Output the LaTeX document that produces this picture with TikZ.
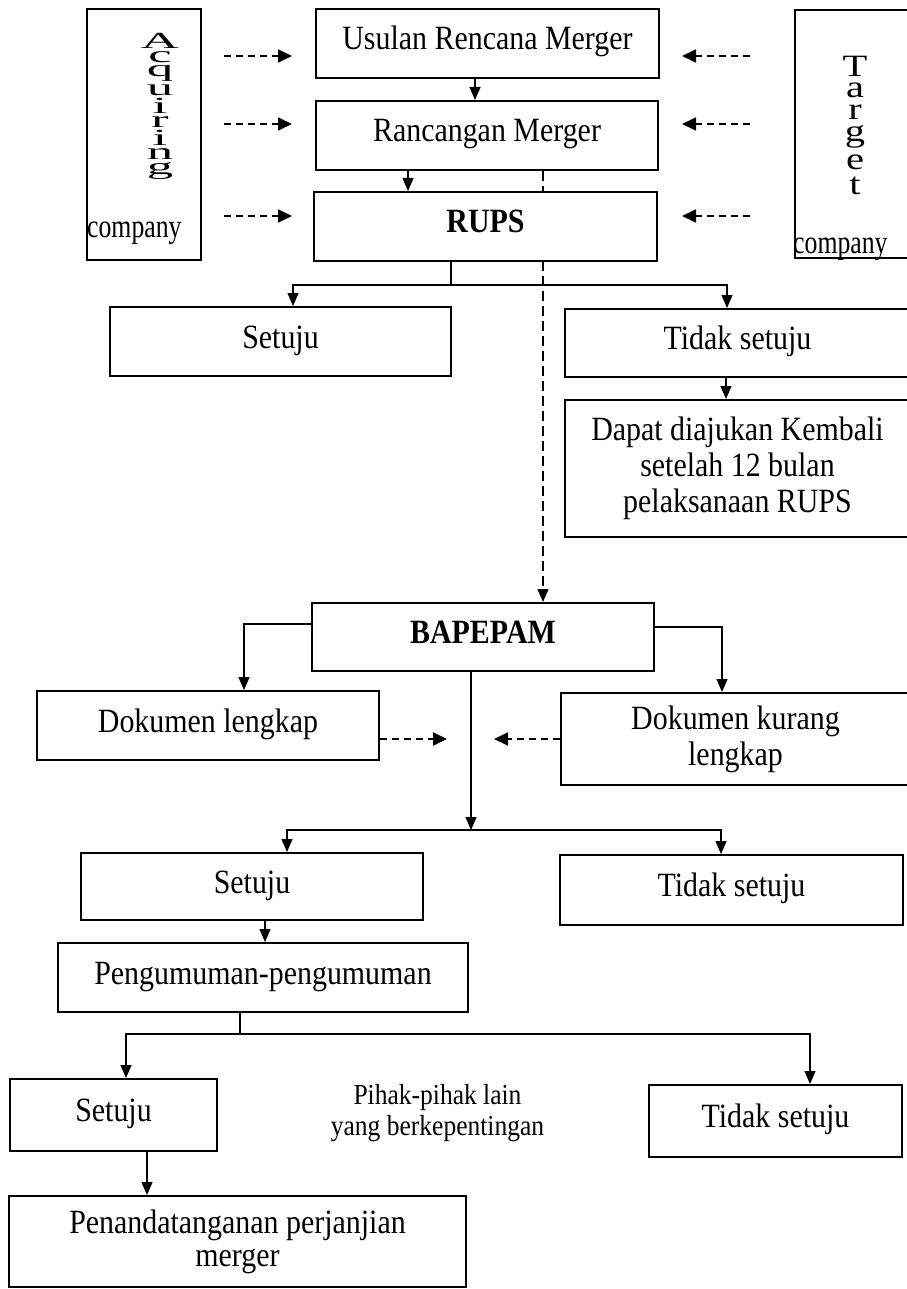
\documentclass[tikz,border=0pt]{standalone}
\usepackage{fontspec}
\setmainfont[FakeStretch=0.88]{Liberation Serif}
\newfontfamily\plainserif{Liberation Serif}
\usetikzlibrary{arrows.meta,backgrounds,calc}
\newcommand{\boxfont}{\fontsize{34}{36}\selectfont}
\newcommand{\pihakfont}{\fontsize{29}{31}\selectfont}
\newcommand{\wl}[1]{\scalebox{2.4}[1.05]{#1}}
\newcommand{\tl}[1]{\scalebox{1.5}[1.15]{#1}}
\tikzset{
  box/.style={draw, line width=2pt, fill=white, inner sep=0pt, font=\boxfont, text height=22pt, text depth=9pt, align=center},
  mbox/.style={draw, line width=2pt, fill=white, inner sep=0pt, font=\boxfont, align=center},
  sidebox/.style={draw, line width=2pt, fill=white, inner sep=0pt},
  arr/.style={line width=1.3pt, -{Triangle[length=13pt,width=11pt]}},
  ln/.style={line width=1.3pt},
  darr/.style={line width=1.8pt, dash pattern=on 7pt off 5pt, -{Triangle[length=14pt,width=13pt]}},
  dln/.style={line width=1.2pt, dash pattern=on 10pt off 5pt, -{Triangle[length=13pt,width=11pt]}},
  vstack/.style={inner sep=0pt, anchor=north},
  complabel/.style={inner sep=0pt, anchor=base west, font=\plainserif\fontsize{33}{33}\selectfont},
}
\begin{document}
\begin{tikzpicture}[x=1pt, y=-1pt]
\useasboundingbox (0,0) rectangle (906,1289);

% side boxes
\node[sidebox, minimum width=114pt, minimum height=251pt] (acq) at (144,134.5) {};
\node[sidebox, minimum width=115pt, minimum height=248pt] (tgt) at (852.5,134) {};
\node[vstack, font=\plainserif\fontsize{22}{22}\selectfont] (acqtxt) at (160,33)
  {\shortstack{\wl{A}\\\wl{c}\\\wl{q}\\\wl{u}\\\wl{i}\\\wl{r}\\\wl{i}\\\wl{n}\\\wl{g}}};
\node[vstack, font=\plainserif\fontsize{27}{27}\selectfont] (tgttxt) at (855,56)
  {\shortstack{\tl{T}\\[3.6pt]\tl{a}\\[3.6pt]\tl{r}\\[3.6pt]\tl{g}\\[3.6pt]\tl{e}\\[3.6pt]\tl{t}}};
\node[complabel] (acqc) at (87,237) {\scalebox{0.78}[1]{company}};
\node[complabel] (tgtc) at (793,254) {\scalebox{0.78}[1]{company}};

% main boxes
\node[box, minimum width=343pt, minimum height=69pt] (usulan) at (487.5,43.5) {Usulan Rencana Merger};
\node[box, minimum width=342pt, minimum height=69pt] (ranc) at (487,135.5) {Rancangan Merger};
\node[box, minimum width=343pt, minimum height=69pt] (rups) at (485.5,226.5) {\bfseries RUPS};
\node[box, minimum width=341pt, minimum height=69pt] (set1) at (280.5,341.5) {Setuju};
\node[box, minimum width=345pt, minimum height=68pt] (tid1) at (737.5,343) {Tidak setuju};
\node[mbox, minimum width=345pt, minimum height=137pt] (dapat) at (737.5,468.5) {Dapat diajukan Kembali\\setelah 12 bulan\\pelaksanaan RUPS};
\node[box, minimum width=342pt, minimum height=68pt] (bap) at (483,637) {\bfseries BAPEPAM};
\node[box, minimum width=342pt, minimum height=69pt] (doklen) at (208,725.5) {Dokumen lengkap};
\node[mbox, minimum width=349pt, minimum height=92pt] (dokkur) at (735.5,739) {Dokumen kurang\\lengkap};
\node[box, minimum width=342pt, minimum height=67pt] (set2) at (252,886.5) {Setuju};
\node[box, minimum width=343pt, minimum height=70pt] (tid2) at (731.5,890) {Tidak setuju};
\node[box, minimum width=410pt, minimum height=69pt] (peng) at (263,977.5) {Pengumuman-pengumuman};
\node[box, minimum width=207pt, minimum height=72pt] (set3) at (113.5,1115) {Setuju};
\node[font=\pihakfont, align=center, inner sep=0pt] (pihak) at (437.5,1113) {Pihak-pihak lain\\yang berkepentingan};
\node[box, minimum width=253pt, minimum height=72pt] (tid3) at (775.5,1121) {Tidak setuju};
\node[mbox, font=\fontsize{34}{33}\selectfont, minimum width=457pt, minimum height=91pt] (pen) at (237.5,1241.5) {Penandatanganan perjanjian\\merger};

% junctions and free ends
\coordinate (j1) at (451,285);
\coordinate (j2) at (471,830);
\coordinate (j3) at (240,1034);
\coordinate (la1) at (224,56);  \coordinate (lb1) at (292,56);
\coordinate (la2) at (224,124); \coordinate (lb2) at (292,124);
\coordinate (la3) at (224,216); \coordinate (lb3) at (292,216);
\coordinate (ra1) at (750,56);  \coordinate (rb1) at (682,56);
\coordinate (ra2) at (750,124); \coordinate (rb2) at (682,124);
\coordinate (ra3) at (750,216); \coordinate (rb3) at (682,216);
\coordinate (m1) at (447,739);
\coordinate (m2) at (494,739);

\begin{pgfonlayer}{background}
\fill[white] (0,0) rectangle (906,1289);
\draw[darr] (la1) -- (lb1);
\draw[darr] (la2) -- (lb2);
\draw[darr] (la3) -- (lb3);
\draw[darr] (ra1) -- (rb1);
\draw[darr] (ra2) -- (rb2);
\draw[darr] (ra3) -- (rb3);

\draw[arr] ([xshift=-12.5pt]usulan.south) -- ([xshift=-12.5pt]usulan.south |- ranc.north);
\draw[arr] ([xshift=-79pt]ranc.south) -- ([xshift=-79pt]ranc.south |- rups.north);
\draw[dln] ([xshift=56pt]ranc.south) -- ([xshift=56pt]ranc.south |- bap.north);
\draw[ln] (rups.south -| j1) -- (j1);
\draw[arr] (j1) -| ([xshift=12.5pt]set1.north);
\draw[arr] (j1) -| ([xshift=-10.5pt]tid1.north);
\draw[arr] ([xshift=-11.5pt]tid1.south) -- ([xshift=-11.5pt]tid1.south |- dapat.north);

\draw[arr] ([yshift=13pt]bap.west) -| ([xshift=36pt]doklen.north);
\draw[arr] ([yshift=10pt]bap.east) -| ([xshift=-13.5pt]dokkur.north);
\draw[darr] (doklen.east |- m1) -- (m1);
\draw[darr] (dokkur.west |- m2) -- (m2);
\draw[arr] (bap.south -| j2) -- (j2);
\draw[arr] (j2) -| ([xshift=35pt]set2.north);
\draw[arr] (j2) -| ([xshift=-10.5pt]tid2.north);
\draw[arr] ([xshift=13pt]set2.south) -- ([xshift=13pt]set2.south |- peng.north);
\draw[ln] (peng.south -| j3) -- (j3);
\draw[arr] (j3) -| ([xshift=12.5pt]set3.north);
\draw[arr] (j3) -| ([xshift=34.5pt]tid3.north);
\draw[arr] ([xshift=33.5pt]set3.south) -- ([xshift=33.5pt]set3.south |- pen.north);
\end{pgfonlayer}
\end{tikzpicture}
\end{document}
